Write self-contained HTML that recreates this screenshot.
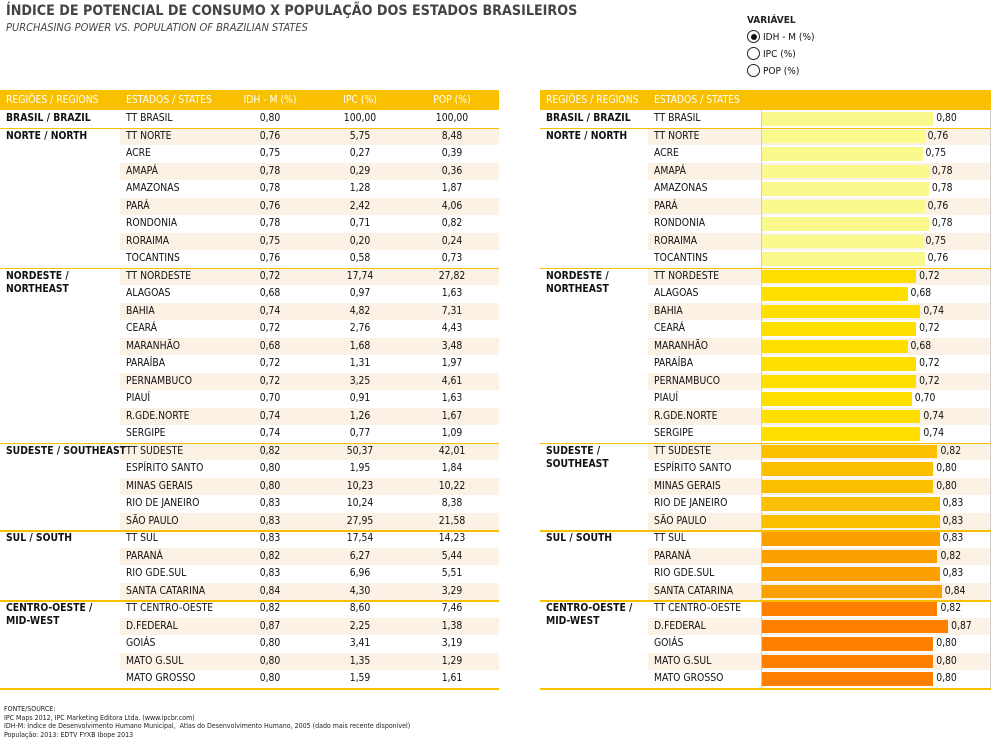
<!DOCTYPE html>
<html><head><meta charset="utf-8">
<style>
body{margin:0;width:1008px;height:752px;background:#fff;font-family:"DejaVu Sans Condensed","Liberation Sans",sans-serif;color:#111;position:relative;overflow:hidden}
.abs{position:absolute;white-space:nowrap}
.t{font-size:10.3px;line-height:17.5px}
</style></head><body>
<div class="abs" style="left:6px;top:3px;font-size:14.2px;font-weight:bold;color:#444">ÍNDICE DE POTENCIAL DE CONSUMO X POPULAÇÃO DOS ESTADOS BRASILEIROS</div>
<div class="abs" style="left:6px;top:21px;font-size:11px;font-style:italic;color:#444">PURCHASING POWER VS. POPULATION OF BRAZILIAN STATES</div>
<div class="abs" style="left:747px;top:12px;font-size:10px;line-height:17px">
<div style="font-weight:bold;color:#222">VARIÁVEL</div>
<div><span style="display:inline-block;width:11px;height:11px;border:1px solid #222;border-radius:50%;vertical-align:-3px;position:relative;margin-right:3px"><span style="position:absolute;left:2.5px;top:2.5px;width:6px;height:6px;border-radius:50%;background:#111"></span></span>IDH - M (%)</div>
<div><span style="display:inline-block;width:11px;height:11px;border:1px solid #222;border-radius:50%;vertical-align:-3px;margin-right:3px"></span>IPC (%)</div>
<div><span style="display:inline-block;width:11px;height:11px;border:1px solid #222;border-radius:50%;vertical-align:-3px;margin-right:3px"></span>POP (%)</div>
</div>
<div id="left"></div>
<div id="right"></div>
<div class="abs" style="left:4px;top:705px;font-size:7px;line-height:8.5px;color:#222">FONTE/SOURCE:<br>IPC Maps 2012, IPC Marketing Editora Ltda. (www.ipcbr.com)<br>IDH-M: Índice de Desenvolvimento Humano Municipal,&nbsp; Atlas do Desenvolvimento Humano, 2005 (dado mais recente disponível)<br>População: 2013: EDTV FYXB Ibope 2013</div>
<script>
const regions=["BRASIL / BRAZIL","NORTE / NORTH","NORDESTE /<br>NORTHEAST","SUDESTE / SOUTHEAST","SUL / SOUTH","CENTRO-OESTE /<br>MID-WEST"];
const regionsRight=["BRASIL / BRAZIL","NORTE / NORTH","NORDESTE /<br>NORTHEAST","SUDESTE /<br>SOUTHEAST","SUL / SOUTH","CENTRO-OESTE /<br>MID-WEST"];
const regionSizes=[1,8,10,5,4,5];
const states=["TT BRASIL","TT NORTE","ACRE","AMAPÁ","AMAZONAS","PARÁ","RONDONIA","RORAIMA","TOCANTINS","TT NORDESTE","ALAGOAS","BAHIA","CEARÁ","MARANHÃO","PARAÍBA","PERNAMBUCO","PIAUÍ","R.GDE.NORTE","SERGIPE","TT SUDESTE","ESPÍRITO SANTO","MINAS GERAIS","RIO DE JANEIRO","SÃO PAULO","TT SUL","PARANÁ","RIO GDE.SUL","SANTA CATARINA","TT CENTRO-OESTE","D.FEDERAL","GOIÁS","MATO G.SUL","MATO GROSSO"];
const idh=[0.80,0.76,0.75,0.78,0.78,0.76,0.78,0.75,0.76,0.72,0.68,0.74,0.72,0.68,0.72,0.72,0.70,0.74,0.74,0.82,0.80,0.80,0.83,0.83,0.83,0.82,0.83,0.84,0.82,0.87,0.80,0.80,0.80];
const ipc=["100,00","5,75","0,27","0,29","1,28","2,42","0,71","0,20","0,58","17,74","0,97","4,82","2,76","1,68","1,31","3,25","0,91","1,26","0,77","50,37","1,95","10,23","10,24","27,95","17,54","6,27","6,96","4,30","8,60","2,25","3,41","1,35","1,59"];
const pop=["100,00","8,48","0,39","0,36","1,87","4,06","0,82","0,24","0,73","27,82","1,63","7,31","4,43","3,48","1,97","4,61","1,63","1,67","1,09","42,01","1,84","10,22","8,38","21,58","14,23","5,44","5,51","3,29","7,46","1,38","3,19","1,29","1,61"];
const barColors=["#fafa8c","#fafa8c","#ffdf00","#fcbf00","#fca000","#ff7f00"];
const top0=110,rh=17.5,yellow="#f9c000",shade="#fbf1e4";
const fmt=v=>v.toFixed(2).replace('.',',');
const x=v=>v*214;
function mk(parent,style,html,name,inter){const d=document.createElement('div');d.className='abs t';d.style.cssText=style;if(html!=null)d.innerHTML=html;


parent.appendChild(d);return d;}
function table(root,L,W,stateX,right){
 mk(root,`left:${L}px;top:90px;width:${W}px;height:20px;background:${yellow}`,null,'table-header',false);
 const hs=right?[["REGIÕES / REGIONS",L+6],["ESTADOS / STATES",stateX]]:[["REGIÕES / REGIONS",6],["ESTADOS / STATES",126]];
 hs.forEach(h=>mk(root,`left:${h[1]}px;top:90px;color:#fff;line-height:20px`,h[0],'column-header',false));
 if(!right){[["IDH - M (%)",270],["IPC (%)",360],["POP (%)",452]].forEach(h=>mk(root,`left:${h[1]-40}px;width:80px;text-align:center;top:90px;color:#fff;line-height:20px`,h[0],'column-header',false));}
 let i=0;
 regionSizes.forEach((n,g)=>{
  const gy=top0+i*rh;
  if(g>0) mk(root,`left:${L}px;top:${gy}px;width:${W}px;height:1.5px;background:${yellow};z-index:2`,null,'region-separator',false);
  mk(root,`left:${L+6}px;top:${gy}px;font-weight:bold;line-height:13px;padding-top:2px;z-index:3`,(right?regionsRight:regions)[g],'region-label',false);
  for(let k=0;k<n;k++,i++){
   const y=top0+i*rh;
   if(i%2==1) mk(root,`left:${stateX-6}px;top:${y}px;width:${L+W-stateX+6}px;height:${rh}px;background:${shade}`,null,'row-shade',false);
   mk(root,`left:${stateX}px;top:${y}px`,states[i],'state-label',false);
   if(!right){
    mk(root,`left:230px;width:80px;text-align:center;top:${y}px`,fmt(idh[i]),'idh-value',false);
    mk(root,`left:320px;width:80px;text-align:center;top:${y}px`,ipc[i],'ipc-value',false);
    mk(root,`left:412px;width:80px;text-align:center;top:${y}px`,pop[i],'pop-value',false);
   } else {
    const w=x(idh[i]);
    mk(root,`left:762px;top:${y+2}px;width:${w}px;height:${rh-4}px;background:${barColors[g]};z-index:1`,null,'idh-bar',false);
    mk(root,`left:${762+w+3}px;top:${y}px;z-index:1`,fmt(idh[i]),'bar-value-label',false);
   }
  }
 });
 mk(root,`left:${L}px;top:${top0+i*rh}px;width:${W}px;height:2px;background:${yellow}`,null,'table-bottom-line',false);
 if(right){
  mk(root,`left:761px;top:110px;width:1px;height:${i*rh}px;background:#ccc`,null,'chart-left-border',false);
  mk(root,`left:990px;top:110px;width:1px;height:${i*rh}px;background:#ccc`,null,'chart-right-border',false);
 }
}
table(document.getElementById('left'),0,499,126,false);
table(document.getElementById('right'),540,451,654,true);
</script>
</body></html>
